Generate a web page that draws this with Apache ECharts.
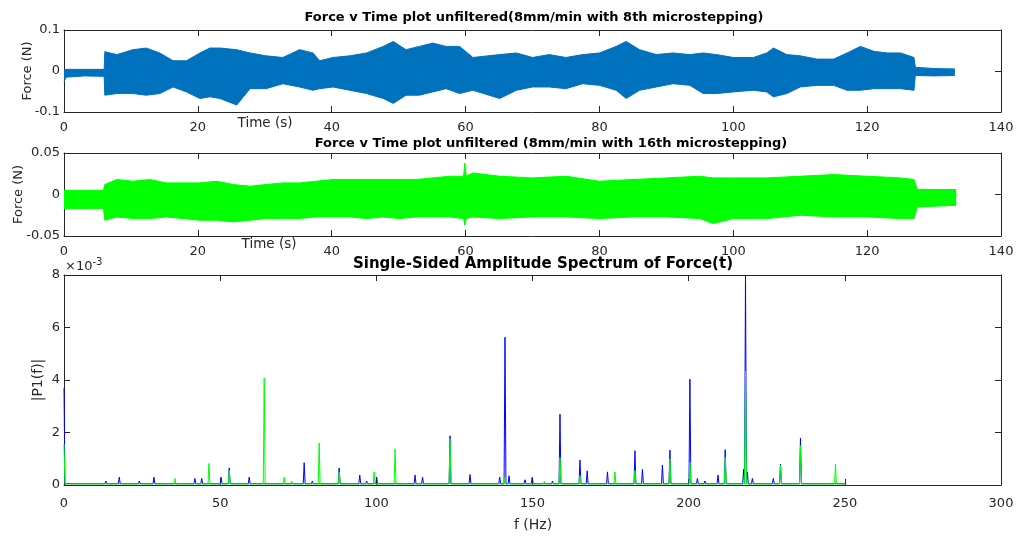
<!DOCTYPE html>
<html>
<head>
<meta charset="utf-8">
<script src="https://cdn.jsdelivr.net/npm/echarts@6/dist/echarts.min.js"></script>
<style>
html, body { margin: 0; padding: 0; background: #fff; }
#grafico { width: 1019px; height: 541px; }
</style>
</head>
<body>
<div id="grafico"></div>
<script>
// envelope do sinal (8th microstepping)
const tempo1 = [0, 0.3, 3, 6.0, 6.1, 7.9, 10.3, 12.3, 14.3, 16.3, 18.3, 20.3, 21.8, 23.3,
    25.8, 27.8, 30.2, 32.7, 35.2, 37.2, 38.2, 40.2, 42.7, 45.2, 47.7, 49.2, 51.1, 53.1,
    55.1, 57.1, 59.1, 61.1, 65.1, 67.6, 70, 72.5, 75, 77.5, 80, 82.5, 84, 86, 88.5, 91,
    93.5, 95.5, 97.5, 100, 103, 105, 106, 108, 110, 112.5, 115, 117, 119, 121, 123, 125,
    127, 127.2, 130, 133.1]
const topo1 = [0.003, 0.004, 0.004, 0.004, 0.047, 0.040, 0.052, 0.056, 0.044, 0.025, 0.025,
    0.044, 0.056, 0.056, 0.052, 0.044, 0.037, 0.033, 0.052, 0.044, 0.025, 0.033, 0.037,
    0.044, 0.060, 0.072, 0.052, 0.060, 0.068, 0.060, 0.060, 0.033, 0.040, 0.044, 0.033,
    0.040, 0.033, 0.040, 0.044, 0.060, 0.072, 0.052, 0.040, 0.044, 0.040, 0.044, 0.040,
    0.033, 0.033, 0.044, 0.056, 0.040, 0.037, 0.029, 0.029, 0.044, 0.060, 0.048, 0.044,
    0.044, 0.033, 0.009, 0.006, 0.005]
const fundo1 = [-0.027, -0.015, -0.012, -0.013, -0.059, -0.055, -0.055, -0.059, -0.055,
    -0.039, -0.051, -0.067, -0.063, -0.067, -0.083, -0.043, -0.043, -0.031, -0.039, -0.047,
    -0.043, -0.039, -0.047, -0.055, -0.067, -0.079, -0.059, -0.059, -0.051, -0.043, -0.055,
    -0.047, -0.067, -0.047, -0.039, -0.039, -0.043, -0.031, -0.035, -0.047, -0.067, -0.047,
    -0.039, -0.031, -0.035, -0.055, -0.055, -0.051, -0.047, -0.051, -0.063, -0.055, -0.039,
    -0.035, -0.035, -0.047, -0.047, -0.043, -0.043, -0.043, -0.047, -0.011, -0.012, -0.011]

// envelope do sinal (16th microstepping)
const tempo2 = [0, 5.9, 6.1, 7.9, 10.3, 12.8, 15.3, 17.8, 20.3, 22.8, 25.3, 27.8, 30.2, 32.7,
    35.2, 37.7, 40.2, 42.7, 45.2, 47.7, 50.1, 52.6, 55.1, 57.6, 59.7, 59.9, 60.1, 61.1, 65.1,
    70, 75, 80, 85, 90, 95, 97, 100, 105, 110, 115, 120, 125, 127, 127.5, 133.3]
const topo2 = [0.005, 0.005, 0.012, 0.018, 0.016, 0.018, 0.014, 0.014, 0.014, 0.016, 0.012,
    0.010, 0.012, 0.014, 0.014, 0.016, 0.018, 0.018, 0.018, 0.018, 0.018, 0.018, 0.020,
    0.022, 0.022, 0.038, 0.022, 0.026, 0.022, 0.020, 0.022, 0.016, 0.018, 0.020, 0.022,
    0.020, 0.020, 0.020, 0.022, 0.024, 0.022, 0.020, 0.018, 0.006, 0.006]
const fundo2 = [-0.017, -0.017, -0.031, -0.027, -0.029, -0.029, -0.027, -0.029, -0.031,
    -0.031, -0.033, -0.031, -0.029, -0.029, -0.029, -0.027, -0.027, -0.027, -0.029, -0.027,
    -0.029, -0.027, -0.027, -0.027, -0.029, -0.037, -0.029, -0.027, -0.029, -0.027, -0.027,
    -0.029, -0.027, -0.027, -0.029, -0.035, -0.029, -0.029, -0.025, -0.027, -0.027, -0.029,
    -0.029, -0.015, -0.013]

// picos do espectro (amplitude em unidades de 1e-3)
const freqAzul = [0, 4.8, 11.5, 13.4, 17.7, 24.1, 28.8, 41.9, 44.1, 50.3, 52.9, 59.3, 76.9,
    79.5, 88.1, 94.7, 96.9, 100.1, 112.4, 114.8, 117, 123.6, 130, 139.5, 141.2, 142.5, 147.6,
    149.9, 156.4, 158.8, 165.2, 167.5, 174, 182.8, 185.2, 191.6, 194, 200.4, 202.8, 205.2,
    209.4, 211.7, 217.6, 218.2, 218.8, 220.4, 227.1, 229.4, 235.8, 238.1, 244.7]
const ampAzul = [3.7, 0.1, 0.1, 0.15, 0.3, 0.15, 0.3, 0.25, 0.25, 0.3, 0.65, 0.3, 0.85,
    0.15, 0.65, 0.38, 0.15, 0.3, 0.38, 0.3, 0.1, 1.87, 0.4, 0.3, 5.63, 0.35, 0.2,
    0.3, 0.15, 2.7, 0.95, 0.54, 0.5, 1.31, 0.6, 0.76, 1.33, 4.03, 0.25, 0.15,
    0.38, 1.35, 0.6, 8.0, 0.5, 0.25, 0.25, 0.8, 1.78, 0.08, 0.08]
const freqVerde = [0, 35.5, 46.4, 52.9, 64.1, 70.5, 72.9, 81.7, 88.1, 99.3, 106, 123.6,
    132.4, 141.2, 153.8, 158.8, 165.2, 176.4, 182.8, 194, 200.4, 211.7, 218.2, 229.4,
    235.8, 247]
const ampVerde = [1.55, 0.25, 0.82, 0.55, 4.08, 0.3, 0.15, 1.6, 0.5, 0.5, 1.38, 1.75,
    0.1, 0.3, 0.15, 1.04, 0.35, 0.5, 0.55, 1.0, 0.86, 1.05, 4.34, 0.75, 1.5, 0.8]

const fonte = "'DejaVu Sans', Verdana, sans-serif"
const corEixo = '#262626'

function pares(xs, ys){
    return xs.map((x, i) => [x, ys[i]])
}

function picos(freqs, amps, piso, fim){
    let dados = []
    freqs.forEach((f, i) => {
        if (f > 0) dados.push([f - 0.3, piso])
        dados.push([f, amps[i]])
        dados.push([f + 0.3, piso])
    })
    dados.push([fim, piso])
    return dados
}

function eixosX(grade, max, intervalo, margem){
    const linha = { show: true, onZero: false, lineStyle: { color: corEixo, width: 1 } }
    const marca = { show: true, inside: true, length: 6, lineStyle: { color: corEixo } }
    return [
        { type: 'value', gridIndex: grade, position: 'bottom', min: 0, max: max, interval: intervalo,
          axisLine: linha, axisTick: marca, splitLine: { show: false },
          axisLabel: { margin: margem, color: corEixo, fontSize: 13, fontFamily: fonte,
                       showMinLabel: true, showMaxLabel: true } },
        { type: 'value', gridIndex: grade, position: 'top', min: 0, max: max, interval: intervalo,
          axisLine: linha, axisTick: marca, splitLine: { show: false }, axisLabel: { show: false } }
    ]
}

function eixosY(grade, min, max, intervalo, nome, distancia, tamanhoNome){
    const linha = { show: true, onZero: false, lineStyle: { color: corEixo, width: 1 } }
    const marca = { show: true, inside: true, length: 6, lineStyle: { color: corEixo } }
    return [
        { type: 'value', gridIndex: grade, position: 'left', min: min, max: max, interval: intervalo,
          name: nome, nameLocation: 'middle', nameRotate: 90, nameGap: distancia,
          nameMoveOverlap: false,
          nameTextStyle: { color: corEixo, fontSize: tamanhoNome, fontFamily: fonte },
          axisLine: linha, axisTick: marca, splitLine: { show: false },
          axisLabel: { margin: 4, color: corEixo, fontSize: 13, fontFamily: fonte,
                       showMinLabel: true, showMaxLabel: true } },
        { type: 'value', gridIndex: grade, position: 'right', min: min, max: max, interval: intervalo,
          axisLine: linha, axisTick: marca, splitLine: { show: false }, axisLabel: { show: false } }
    ]
}

// duas areas (de cima e de baixo) que se sobrepoem um pouco perto do zero
function envelope(tempos, valores, cor, eixo, origem){
    return {
        type: 'line', xAxisIndex: eixo, yAxisIndex: eixo, data: pares(tempos, valores),
        showSymbol: false, silent: true,
        lineStyle: { color: cor, width: 1 },
        areaStyle: { color: cor, opacity: 1, origin: origem }
    }
}

function texto(conteudo, x, y, tamanho, negrito){
    return {
        text: conteudo, left: x, top: y, textAlign: 'center', padding: 0,
        textStyle: { fontSize: tamanho, fontWeight: negrito ? 'bold' : 'normal',
                     color: negrito ? '#000' : corEixo, fontFamily: fonte }
    }
}

const azul1 = '#0072bd'
const verde = '#00ff00'
const azul = '#0000ff'

let option = {
    animation: false,
    backgroundColor: '#fff',
    title: [
        texto('Force v Time plot unfiltered(8mm/min with 8th microstepping)', 534, 11, 13, true),
        texto('Force v Time plot unfiltered (8mm/min with 16th microstepping)', 551, 137, 13, true),
        texto('Single-Sided Amplitude Spectrum of Force(t)', 543, 257, 15, true),
        texto('Time (s)', 265, 116, 13.5, false),
        texto('Time (s)', 269, 237, 13.5, false),
        texto('f (Hz)', 533, 518, 14, false),
        {
            text: '{a|×10}{b|-3}', left: 65, top: 257, padding: 0,
            textStyle: { rich: {
                a: { fontSize: 13, fontWeight: 'normal', color: corEixo, fontFamily: fonte, verticalAlign: 'bottom' },
                b: { fontSize: 10, fontWeight: 'normal', color: corEixo, fontFamily: fonte, verticalAlign: 'top', padding: [0, 0, 6, 0] }
            } }
        }
    ],
    grid: [
        { left: 64, top: 30, width: 937, height: 82 },
        { left: 64, top: 153, width: 937, height: 83 },
        { left: 64, top: 275, width: 937, height: 210 }
    ],
    xAxis: [].concat(eixosX(0, 140, 20, 9), eixosX(1, 140, 20, 9), eixosX(2, 300, 50, 12)),
    yAxis: [].concat(eixosY(0, -0.1, 0.1, 0.1, 'Force (N)', 30, 13),
                     eixosY(1, -0.05, 0.05, 0.05, 'Force (N)', 39, 13),
                     eixosY(2, 0, 8, 2, '|P1(f)|', 19, 14)),
    series: [
        envelope(tempo1, topo1, azul1, 0, -0.004),
        envelope(tempo1, fundo1, azul1, 0, 0.002),
        envelope(tempo2, topo2, verde, 2, -0.004),
        envelope(tempo2, fundo2, verde, 2, 0.002),
        {
            type: 'line', xAxisIndex: 4, yAxisIndex: 4, showSymbol: false, silent: true,
            data: picos(freqAzul, ampAzul, 0.05, 250.2),
            lineStyle: { color: azul, width: 1 }
        },
        {
            type: 'line', xAxisIndex: 4, yAxisIndex: 4, showSymbol: false, silent: true,
            data: picos(freqVerde, ampVerde, 0.04, 250.2),
            lineStyle: { color: verde, width: 1 }
        }
    ]
}

const grafico = echarts.init(document.getElementById('grafico'))
grafico.setOption(option)
</script>
</body>
</html>
